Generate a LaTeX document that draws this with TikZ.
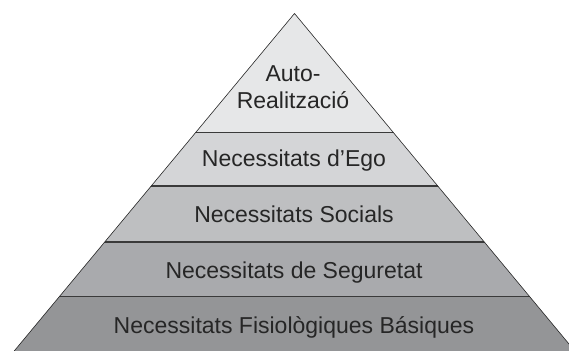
\documentclass[tikz,border=0pt]{standalone}
\usepackage{fontspec}
\setmainfont{Liberation Sans}
\definecolor{bandA}{HTML}{E6E7E8}
\definecolor{bandB}{HTML}{D4D5D7}
\definecolor{bandC}{HTML}{BEBFC1}
\definecolor{bandD}{HTML}{A9AAAD}
\definecolor{bandE}{HTML}{949597}
\definecolor{linegray}{HTML}{3A3A3A}
\definecolor{txt}{HTML}{262626}
\tikzset{
  lvl/.style={anchor=base, text=txt, font=\fontsize{23}{27}\selectfont, inner sep=0pt, align=center},
  divider/.style={draw=linegray, line width=1.4pt},
  outline/.style={draw=black!85, line width=0.6pt}
}
\begin{document}
\begin{tikzpicture}[x=1pt,y=-1pt]
\useasboundingbox (0,0) rectangle (569,350);
\coordinate (apex) at (294.5,13.5);
\coordinate (bl) at (11.7,354);
\coordinate (br) at (577.3,354);
\begin{scope}
\clip (apex) -- (br) -- (bl) -- cycle;
\fill[bandA] (0,0) rectangle (569,132.7);
\fill[bandB] (0,132.7) rectangle (569,186);
\fill[bandC] (0,186) rectangle (569,242);
\fill[bandD] (0,242) rectangle (569,296.7);
\fill[bandE] (0,296.7) rectangle (580,360);
\draw[divider] (0,132.7) -- (580,132.7);
\draw[divider] (0,186) -- (580,186);
\draw[divider] (0,242) -- (580,242);
\draw[divider] (0,296.7) -- (580,296.7);
\end{scope}
\draw[outline] (bl) -- (apex) -- (br);
\node[lvl] (auto) at (293,81.5) {Auto-};
\node[lvl] (real) at (293,108.5) {Realització};
\node[lvl] (ego) at (294,166.7) {Necessitats d’Ego};
\node[lvl] (soc) at (294,222.5) {Necessitats Socials};
\node[lvl] (seg) at (294,278.3) {Necessitats de Seguretat};
\node[lvl] (fis) at (294,333.3) {Necessitats Fisiològiques Básiques};
\end{tikzpicture}
\end{document}
